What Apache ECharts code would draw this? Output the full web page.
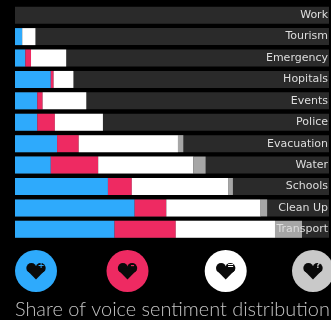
<!DOCTYPE html>
<html><head><meta charset="utf-8">
<style>html,body{margin:0;padding:0;background:#000}#c{width:331px;height:320px;filter:blur(0.4px)}</style>
<script src="https://cdn.jsdelivr.net/npm/echarts@6/dist/echarts.min.js"></script>
</head><body><div id="c"></div>
<script>
const categories = ['Work','Tourism','Emergency','Hopitals','Events','Police','Evacuation','Water','Schools','Clean Up','Transport'];
const positive = [0,2.3,3.3,11.4,7.1,7.1,13.4,11.4,29.6,38.1,31.7];
const negative = [0,0,1.8,0.9,1.7,5.6,6.9,15.1,7.6,10.1,19.5];
const neutral  = [0,4.2,11.2,6.3,13.9,15.3,31.6,30.3,30.8,30,31.6];
const unknown  = [0,0,0,0,0,0,1.7,3.9,1.4,2.1,8.6];
const track    = [100,100,100,100,100,100,100,100,100,100,100];
const title = 'Share of voice sentiment distribution';
const colors = {pos:'#2eaafc', neg:'#ee2a62', neu:'#ffffff', unk:'#a6a6a6'};

function badge(cx, fill, sign){
  const dark = {fill:'#0a0a0a'};
  return {type:'group', x:cx, y:271, children:[
    {type:'circle', z:5, shape:{cx:0,cy:0,r:21}, style:{fill:fill}},
    {type:'circle', z:6, shape:{cx:-4.6,cy:-3,r:5.1}, style:dark},
    {type:'circle', z:6, shape:{cx:4.6,cy:-3,r:5.1}, style:dark},
    {type:'polygon', z:6, shape:{points:[[-9.3,-1],[0,8.5],[9.3,-1],[0,-3]]}, style:dark},
    {type:'text', z:7, x:5, y:-5, style:{text:sign, fill:fill, font:'bold 8px "DejaVu Sans"', align:'center', verticalAlign:'middle'}}
  ]};
}
const stacked = (name, data, color) => ({name, type:'bar', stack:'s', data, barWidth:17, barGap:'-100%', z:3,
  itemStyle:{color}, emphasis:{disabled:true}});

const chart = echarts.init(document.getElementById('c'), null, {renderer:'canvas'});
chart.setOption({
  backgroundColor:'#000',
  animation:false,
  title:{text:title, left:10, top:295, textStyle:{color:'#c4c4c4', fontFamily:'Lato', fontWeight:300, fontSize:19.9}},
  grid:{left:15, right:0, top:4.5, bottom:80},
  xAxis:{type:'value', min:0, max:100, show:false},
  yAxis:{type:'category', inverse:true, data:categories, position:'right', z:10,
    axisLine:{show:false}, axisTick:{show:false}, splitLine:{show:false},
    axisLabel:{inside:true, margin:1, color:'#dedede', fontFamily:'DejaVu Sans', fontSize:11}},
  series:[
    {name:'Total', type:'bar', data:track, barWidth:17, barGap:'-100%', z:1, silent:true, itemStyle:{color:'#2a2a2a'}},
    stacked('Positive', positive, colors.pos),
    stacked('Negative', negative, colors.neg),
    stacked('Neutral', neutral, colors.neu),
    stacked('Unknown', unknown, colors.unk)
  ],
  graphic:[badge(36,colors.pos,'+'),badge(127.5,colors.neg,'–'),badge(225.7,colors.neu,'='),badge(313,'#c9c9c9','?')]
});
</script></body></html>
